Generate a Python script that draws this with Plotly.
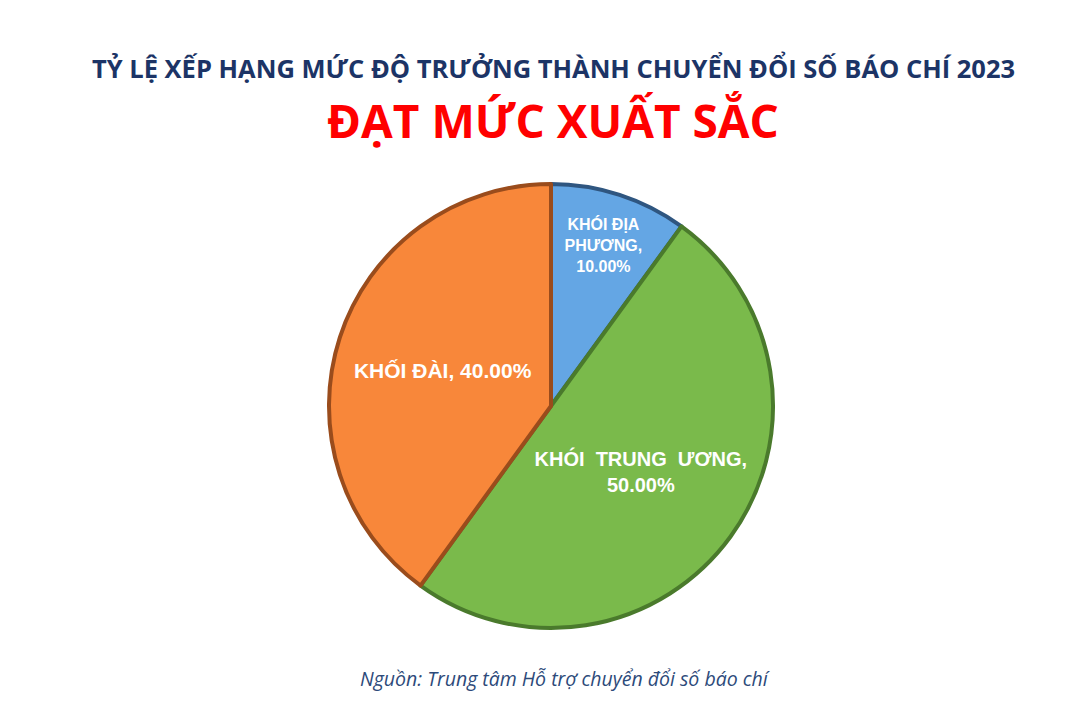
import plotly.graph_objects as go

categories = ["KHÓI ĐỊA PHƯƠNG", "KHÓI TRUNG ƯƠNG", "KHỐI ĐÀI"]
values = [10.0, 50.0, 40.0]
label_text = ["KHÓI ĐỊA<br>PHƯƠNG,<br>10.00%", "KHÓI  TRUNG  ƯƠNG,<br>50.00%", "KHỐI ĐÀI, 40.00%"]

fill_colors = ["#64a6e4", "#7aba4b", "#f8873a"]
edge_colors = ["#2f5680", "#4a7a2c", "#9a4c1c"]
text_sizes = [16, 20, 21]

W, H = 1081, 725
OFF = 8  # page body margin
cx, cy, r = 551 - OFF, 406 - OFF, 222


def py(y):
    return 1 - (y - OFF) / H


def px(x):
    return (x - OFF) / W


fig = go.Figure(go.Pie(
    labels=categories,
    values=values,
    text=label_text,
    textinfo="text",
    textposition="inside",
    insidetextorientation="horizontal",
    sort=False,
    direction="clockwise",
    rotation=0,
    marker=dict(colors=fill_colors, line=dict(color=edge_colors, width=4)),
    textfont=dict(family="Liberation Sans, Arial", color="white", size=text_sizes, weight="bold"),
    hoverinfo="label+percent",
    showlegend=False,
    domain=dict(x=[(cx - r) / W, (cx + r) / W], y=[1 - (cy + r) / H, 1 - (cy - r) / H]),
))

fig.update_layout(
    width=W, height=H,
    margin=dict(l=0, r=0, t=0, b=0),
    paper_bgcolor="white",
    plot_bgcolor="white",
    annotations=[
        dict(text="<b>TỶ LỆ XẾP HẠNG MỨC ĐỘ TRƯỞNG THÀNH CHUYỂN ĐỔI SỐ BÁO CHÍ 2023</b>",
             x=px(553), y=py(68), xref="paper", yref="paper", showarrow=False,
             xanchor="center", yanchor="middle",
             font=dict(family="Open Sans, Noto Sans", size=25.5, color="#1c3466")),
        dict(text="<b>ĐẠT MỨC XUẤT SẮC</b>",
             x=px(553), y=py(120), xref="paper", yref="paper", showarrow=False,
             xanchor="center", yanchor="middle",
             font=dict(family="Open Sans, Noto Sans", size=46, color="#ff0000")),
        dict(text="<i>Nguồn: Trung tâm Hỗ trợ chuyển đổi số báo chí</i>",
             x=px(565), y=py(678), xref="paper", yref="paper", showarrow=False,
             xanchor="center", yanchor="middle",
             font=dict(family="Open Sans, Noto Sans", size=19.5, color="#2d4a7a")),
    ],
)

fig.write_html("out.html")
